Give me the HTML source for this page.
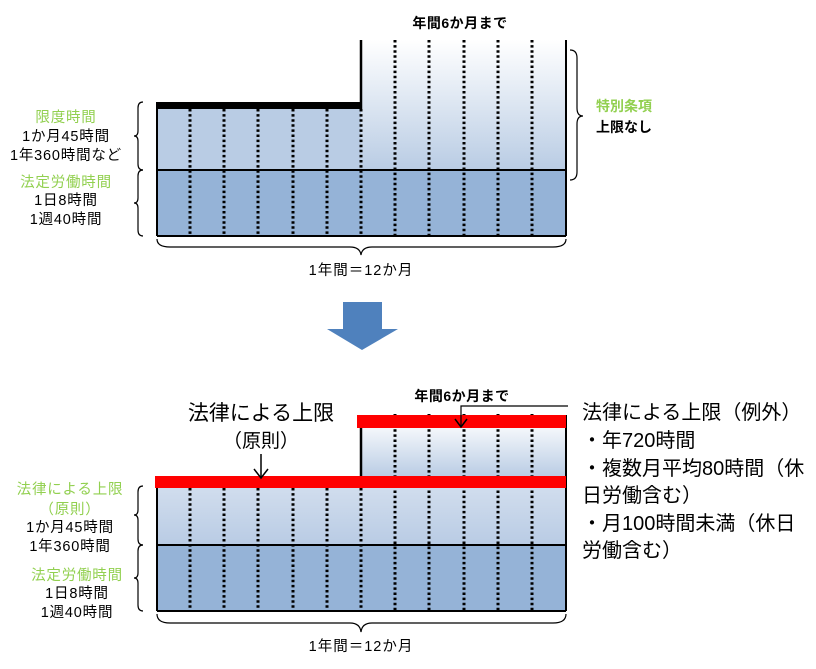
<!DOCTYPE html>
<html><head><meta charset="utf-8"><style>
html,body{margin:0;padding:0;background:#fff;}
svg{display:block;}
text{font-family:"Liberation Sans","Noto Sans CJK JP",sans-serif;}
</style></head><body>
<svg width="816" height="669" viewBox="0 0 816 669" xmlns="http://www.w3.org/2000/svg">
<defs>
<linearGradient id="g1" x1="0" y1="0" x2="0" y2="1">
<stop offset="0" stop-color="#ffffff"/><stop offset="1" stop-color="#b9cce4"/></linearGradient>
<linearGradient id="g2" x1="0" y1="0" x2="0" y2="1">
<stop offset="0" stop-color="#f4f7fb"/><stop offset="1" stop-color="#b9cce4"/></linearGradient>
</defs>

<!-- TOP DIAGRAM -->
<rect x="361" y="40" width="205" height="130" fill="url(#g1)"/>
<rect x="157" y="105" width="204" height="65" fill="#b9cce4"/>
<rect x="157" y="170" width="409" height="66" fill="#95b3d7"/>
<g stroke="#000" stroke-width="3" stroke-dasharray="2.5,2.6">
<line x1="190" y1="109" x2="190" y2="236"/><line x1="224" y1="109" x2="224" y2="236"/>
<line x1="258" y1="109" x2="258" y2="236"/><line x1="293" y1="109" x2="293" y2="236"/>
<line x1="327" y1="109" x2="327" y2="236"/><line x1="361" y1="109" x2="361" y2="236"/>
<line x1="395" y1="40" x2="395" y2="236"/><line x1="429" y1="40" x2="429" y2="236"/>
<line x1="464" y1="40" x2="464" y2="236"/><line x1="498" y1="40" x2="498" y2="236"/>
<line x1="532" y1="40" x2="532" y2="236"/>
</g>
<rect x="157" y="102" width="205" height="7" fill="#000"/>
<line x1="361" y1="40" x2="361" y2="109" stroke="#000" stroke-width="2.5"/>
<line x1="566" y1="40" x2="566" y2="236" stroke="#000" stroke-width="2"/>
<line x1="157" y1="102" x2="157" y2="236" stroke="#000" stroke-width="2"/>
<line x1="157" y1="170" x2="566" y2="170" stroke="#000" stroke-width="2"/>
<line x1="157" y1="236" x2="566" y2="236" stroke="#000" stroke-width="2"/>
<text x="460" y="28" font-size="14" font-weight="bold" text-anchor="middle" letter-spacing="0.5">年間6か月まで</text>
<!-- right brace -->
<path d="M570,50 Q577,50 577,58 L577,108 Q577,116 583,116 Q577,116 577,124 L577,172 Q577,180 570,180" fill="none" stroke="#000" stroke-width="1.2"/>
<text x="596" y="111" font-size="14" font-weight="bold" fill="#92d050">特別条項</text>
<text x="596" y="132" font-size="14" font-weight="bold">上限なし</text>
<!-- left braces -->
<path d="M143,102 Q138,102 138,108 L138,131 Q138,136 134,136 Q138,136 138,141 L138,164 Q138,170 143,170" fill="none" stroke="#000" stroke-width="1.2"/>
<path d="M143,170 Q138,170 138,176 L138,198 Q138,203 134,203 Q138,203 138,208 L138,230 Q138,236 143,236" fill="none" stroke="#000" stroke-width="1.2"/>
<g font-size="14.5" text-anchor="middle" letter-spacing="0.8">
<text x="66" y="122" fill="#92d050">限度時間</text>
<text x="66" y="141">1か月45時間</text>
<text x="66" y="160">1年360時間など</text>
<text x="66" y="187" fill="#92d050">法定労働時間</text>
<text x="66" y="205">1日8時間</text>
<text x="66" y="224">1週40時間</text>
</g>
<path d="M157,239 Q157,247 170,247 L350,247 Q360,247 361,255 Q362,247 372,247 L553,247 Q566,247 566,239" fill="none" stroke="#000" stroke-width="1.2"/>
<text x="361" y="275" font-size="14.5" text-anchor="middle" letter-spacing="1">1年間＝12か月</text>

<!-- BLUE ARROW -->
<polygon points="343,302 382,302 382,329 398,329 362,350 327,329 343,329" fill="#4f81bd"/>

<!-- BOTTOM DIAGRAM -->
<rect x="361" y="428" width="205" height="49" fill="url(#g2)"/>
<rect x="157" y="488" width="409" height="57" fill="url(#g2)"/>
<rect x="157" y="488" width="409" height="57" fill="#b9cce4" opacity="0.6"/>
<rect x="157" y="545" width="409" height="66" fill="#95b3d7"/>
<g stroke="#000" stroke-width="3" stroke-dasharray="2.5,2.6">
<line x1="190" y1="488" x2="190" y2="611"/><line x1="224" y1="488" x2="224" y2="611"/>
<line x1="258" y1="488" x2="258" y2="611"/><line x1="293" y1="488" x2="293" y2="611"/>
<line x1="327" y1="488" x2="327" y2="611"/><line x1="361" y1="488" x2="361" y2="611"/>
<line x1="395" y1="414" x2="395" y2="611"/><line x1="429" y1="414" x2="429" y2="611"/>
<line x1="464" y1="414" x2="464" y2="611"/><line x1="498" y1="414" x2="498" y2="611"/>
<line x1="532" y1="414" x2="532" y2="611"/>
</g>
<line x1="361" y1="428" x2="361" y2="477" stroke="#000" stroke-width="2.5"/>
<line x1="566" y1="415" x2="566" y2="611" stroke="#000" stroke-width="2"/>
<line x1="157" y1="476" x2="157" y2="611" stroke="#000" stroke-width="2"/>
<line x1="157" y1="545" x2="566" y2="545" stroke="#000" stroke-width="2"/>
<line x1="157" y1="611" x2="566" y2="611" stroke="#000" stroke-width="2"/>
<rect x="357" y="415" width="209" height="13" fill="#ff0000"/>
<rect x="155" y="476" width="411" height="12" fill="#ff0000"/>
<text x="462" y="401" font-size="14" font-weight="bold" text-anchor="middle" letter-spacing="0.5">年間6か月まで</text>
<polyline points="568,406 461,406 461,427" fill="none" stroke="#000" stroke-width="1.2"/>
<polyline points="455,419 461,427 467,419" fill="none" stroke="#000" stroke-width="1.5"/>
<text x="261" y="420" font-size="21" text-anchor="middle">法律による上限</text>
<text x="261" y="447" font-size="19" text-anchor="middle">（原則）</text>
<line x1="261" y1="454" x2="261" y2="478" stroke="#000" stroke-width="1.5"/>
<polyline points="254,469 261,478 268,469" fill="none" stroke="#000" stroke-width="1.5"/>
<g font-size="20">
<text x="582" y="419">法律による上限（例外）</text>
<text x="582" y="447">・年720時間</text>
<text x="582" y="475">・複数月平均80時間（休</text>
<text x="582" y="502">日労働含む）</text>
<text x="582" y="530">・月100時間未満（休日</text>
<text x="582" y="557">労働含む）</text>
</g>
<path d="M143,486 Q138,486 138,492 L138,510 Q138,515 134,515 Q138,515 138,520 L138,539 Q138,545 143,545" fill="none" stroke="#000" stroke-width="1.2"/>
<path d="M143,545 Q138,545 138,551 L138,573 Q138,578 134,578 Q138,578 138,583 L138,605 Q138,611 143,611" fill="none" stroke="#000" stroke-width="1.2"/>
<g font-size="14.5" text-anchor="middle" letter-spacing="0.8">
<text x="70" y="494" fill="#92d050">法律による上限</text>
<text x="70" y="514" fill="#92d050">（原則）</text>
<text x="70" y="532">1か月45時間</text>
<text x="70" y="551">1年360時間</text>
<text x="77" y="580" fill="#92d050">法定労働時間</text>
<text x="77" y="598">1日8時間</text>
<text x="77" y="617">1週40時間</text>
</g>
<path d="M157,614 Q157,623 170,623 L350,623 Q360,623 361,632 Q362,623 372,623 L553,623 Q566,623 566,614" fill="none" stroke="#000" stroke-width="1.2"/>
<text x="361" y="651" font-size="14.5" text-anchor="middle" letter-spacing="1">1年間＝12か月</text>
</svg>
</body></html>
